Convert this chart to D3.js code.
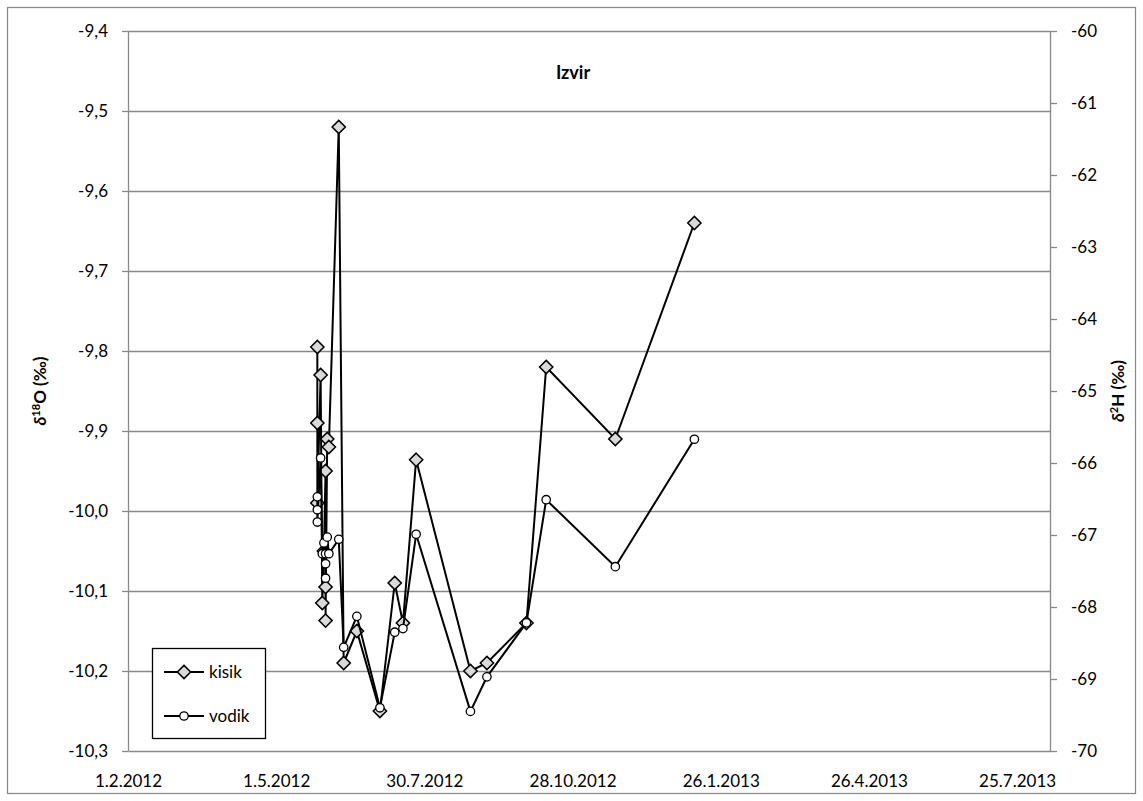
<!DOCTYPE html>
<html>
<head>
<meta charset="utf-8">
<script src="https://cdn.jsdelivr.net/npm/d3@7"></script>
<style>
  body { margin: 0; background: #fff; }
  svg { font-family: Lato, "Open Sans", sans-serif; }
</style>
</head>
<body>
<svg class="chart" width="1143" height="801"></svg>
<script>
// sample dates and isotope values (kisik = d18O, vodik = d2H)
var sampleDates = ["26.5.2012", "26.5.2012", "26.5.2012", "28.5.2012", "29.5.2012", "30.5.2012",
  "31.5.2012", "31.5.2012", "31.5.2012", "1.6.2012", "2.6.2012", "8.6.2012", "11.6.2012",
  "19.6.2012", "3.7.2012", "12.7.2012", "17.7.2012", "25.7.2012", "27.8.2012", "6.9.2012",
  "30.9.2012", "12.10.2012", "23.11.2012", "10.1.2013"];
var kisik = [-9.795, -9.89, -9.99, -9.83, -10.115, -10.05, -9.95, -10.095, -10.137, -9.91, -9.92,
  -9.52, -10.19, -10.15, -10.25, -10.09, -10.14, -9.936, -10.2, -10.19, -10.14, -9.82, -9.91, -9.64];
var vodik = [-66.47, -66.65, -66.82, -65.93, -67.26, -67.11, -67.26, -67.6, -67.4, -67.03, -67.26,
  -67.06, -68.56, -68.13, -69.4, -68.35, -68.3, -66.99, -69.45, -68.97, -68.22, -66.51, -67.44, -65.67];

var dateTicks = ["1.2.2012", "1.5.2012", "30.7.2012", "28.10.2012", "26.1.2013", "26.4.2013", "25.7.2013"];
var leftTicks = [-10.3, -10.2, -10.1, -10.0, -9.9, -9.8, -9.7, -9.6, -9.5, -9.4];
var rightTicks = [-70, -69, -68, -67, -66, -65, -64, -63, -62, -61, -60];
var seriesNames = ["kisik", "vodik"];

function parseDate(s) {
  var p = s.split(".");
  return new Date(Date.UTC(+p[2], +p[1] - 1, +p[0]));
}
function fmtDate(d) {
  return d.getUTCDate() + "." + (d.getUTCMonth() + 1) + "." + d.getUTCFullYear();
}
// excel style: plain hyphen, decimal comma
var locale = d3.formatLocale({ decimal: ",", thousands: ".", grouping: [3], currency: ["", ""], minus: "-" });
var fmtLeft = locale.format(".1f");
var fmtRight = locale.format("d");

var plotL = 128, plotR = 1050, plotT = 31, plotB = 751;
var grey = "#898989";

var svg = d3.select(".chart");

// chart area border
svg.append("rect")
  .attr("x", 7.5).attr("y", 7.5)
  .attr("width", 1128).attr("height", 786)
  .attr("fill", "#fff").attr("stroke", grey).attr("stroke-width", 1.25);

var start = parseDate(dateTicks[0]);
var x = d3.scaleUtc()
  .domain([start, d3.utcDay.offset(start, 560)])
  .range([plotL, plotR]);
var y = d3.scaleLinear().domain([-10.3, -9.4]).range([plotB, plotT]);
var y2 = d3.scaleLinear().domain([-70, -60]).range([plotB, plotT]);

// gridlines
svg.append("g")
  .attr("transform", "translate(" + plotL + ",0)")
  .call(d3.axisLeft(y).tickValues(leftTicks.slice(1)).tickSize(-(plotR - plotL)).tickFormat(""))
  .call(function(g) { g.select(".domain").remove(); })
  .selectAll("line").attr("stroke", grey).attr("stroke-width", 1.3);

// left axis
var ax = svg.append("g")
  .attr("transform", "translate(" + plotL + ",0)")
  .call(d3.axisLeft(y).tickValues(leftTicks).tickFormat(fmtLeft).tickSize(6).tickSizeOuter(0).tickPadding(14));
// right axis
var ax2 = svg.append("g")
  .attr("transform", "translate(" + plotR + ",0)")
  .call(d3.axisRight(y2).tickValues(rightTicks).tickFormat(fmtRight).tickSize(7).tickSizeOuter(0).tickPadding(14));
// bottom axis
var axb = svg.append("g")
  .attr("transform", "translate(0," + plotB + ")")
  .call(d3.axisBottom(x).tickValues(dateTicks.map(parseDate)).tickFormat(fmtDate).tickSize(0).tickSizeOuter(0).tickPadding(24));

[ax, ax2, axb].forEach(function(g) {
  g.select(".domain").attr("stroke", grey).attr("stroke-width", 1.3);
  g.selectAll(".tick line").attr("stroke", grey).attr("stroke-width", 1.3);
  g.selectAll("text").attr("fill", "#000").style("font-size", "17px").style("font-family", "Lato, sans-serif");
});

// axis titles
var t1 = svg.append("text")
  .attr("transform", "translate(46," + ((plotT + plotB) / 2) + ") rotate(-90)")
  .attr("text-anchor", "middle")
  .style("font-size", "17px").style("font-weight", "bold");
t1.append("tspan").text("δ").style("font-style", "italic");
t1.append("tspan").text("18").attr("dy", -6).style("font-size", "11px");
t1.append("tspan").text("O (‰)").attr("dy", 6);

var t2 = svg.append("text")
  .attr("transform", "translate(1124," + ((plotT + plotB) / 2) + ") rotate(-90)")
  .attr("text-anchor", "middle")
  .style("font-size", "17px").style("font-weight", "bold");
t2.append("tspan").text("δ").style("font-style", "italic");
t2.append("tspan").text("2").attr("dy", -6).style("font-size", "11px");
t2.append("tspan").text("H (‰)").attr("dy", 6);

// title
svg.append("text")
  .attr("x", 573).attr("y", 79)
  .attr("text-anchor", "middle")
  .style("font-size", "18px").style("font-weight", "bold")
  .text("Izvir");

var dates = sampleDates.map(parseDate);
var kisikData = dates.map(function(d, i) { return [x(d), y(kisik[i])]; });
var vodikData = dates.map(function(d, i) { return [x(d), y2(vodik[i])]; });

var diamond = d3.symbol().type(d3.symbolDiamond2).size(112);
var line = d3.line();

function drawSeries(data, isDiamond) {
  var g = svg.append("g");
  g.append("path").attr("d", line(data))
    .attr("fill", "none").attr("stroke", "#000").attr("stroke-width", 2);
  if (isDiamond) {
    g.selectAll("path.m").data(data).enter().append("path")
      .attr("class", "m")
      .attr("d", diamond)
      .attr("transform", function(d) { return "translate(" + d[0] + "," + d[1] + ")"; })
      .attr("fill", "#d9d9d9").attr("stroke", "#000").attr("stroke-width", 1.5);
  } else {
    g.selectAll("circle").data(data).enter().append("circle")
      .attr("cx", function(d) { return d[0]; })
      .attr("cy", function(d) { return d[1]; })
      .attr("r", 4.2)
      .attr("fill", "#fff").attr("stroke", "#000").attr("stroke-width", 1.3);
  }
}
drawSeries(kisikData, true);
drawSeries(vodikData, false);

// legend
var lg = svg.append("g");
lg.append("rect").attr("x", 152.5).attr("y", 648.5).attr("width", 113).attr("height", 90)
  .attr("fill", "#fff").attr("stroke", "#000").attr("stroke-width", 1.3);
seriesNames.forEach(function(name, i) {
  var ly = 672 + i * 44;
  lg.append("line").attr("x1", 164).attr("x2", 204).attr("y1", ly).attr("y2", ly)
    .attr("stroke", "#000").attr("stroke-width", 2);
  if (i === 0) {
    lg.append("path").attr("d", diamond).attr("transform", "translate(184," + ly + ")")
      .attr("fill", "#d9d9d9").attr("stroke", "#000").attr("stroke-width", 1.5);
  } else {
    lg.append("circle").attr("cx", 184).attr("cy", ly).attr("r", 4.2)
      .attr("fill", "#fff").attr("stroke", "#000").attr("stroke-width", 1.3);
  }
  lg.append("text").attr("x", 209).attr("y", ly).attr("dy", "0.35em")
    .style("font-size", "17px").text(name);
});
</script>
</body>
</html>
